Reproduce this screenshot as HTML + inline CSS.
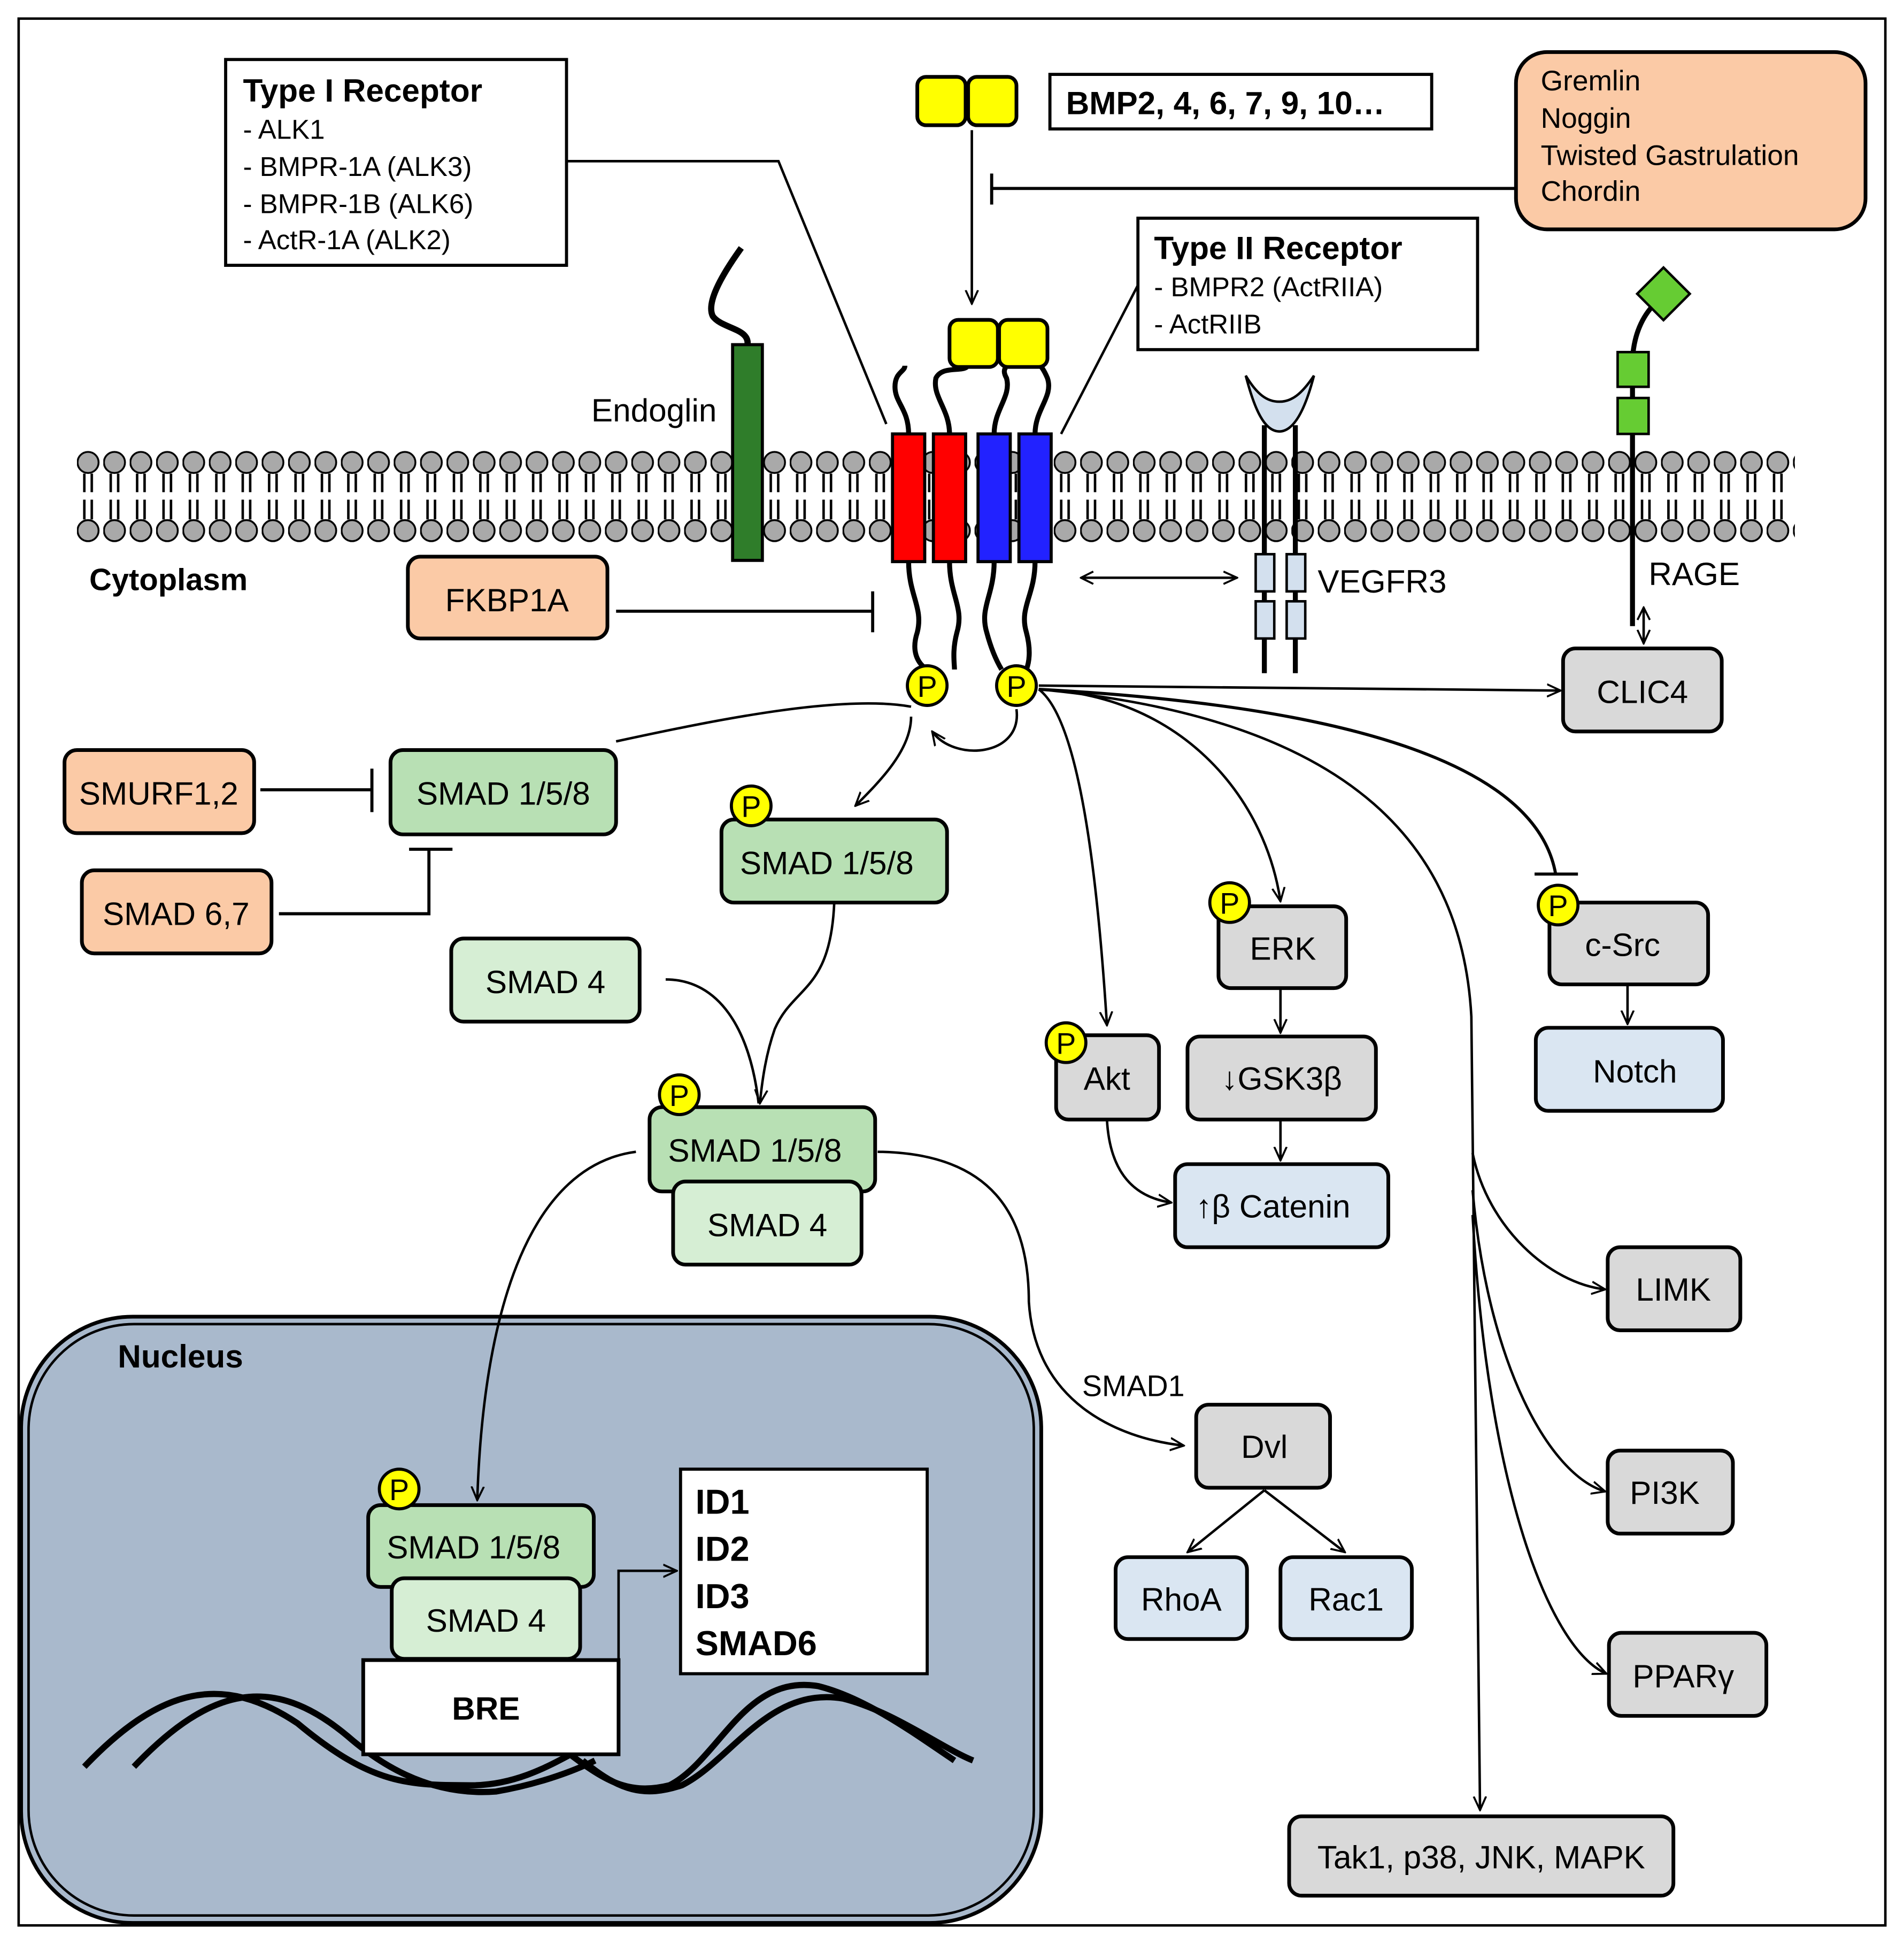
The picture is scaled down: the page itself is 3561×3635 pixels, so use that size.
<!DOCTYPE html>
<html><head><meta charset="utf-8"><style>
html,body{margin:0;padding:0;background:#fff}
svg{display:block}
text{font-family:"Liberation Sans",Arial,sans-serif;fill:#000}
</style></head><body>
<svg width="3561" height="3635" viewBox="0 0 1536 1568" xmlns="http://www.w3.org/2000/svg">
<defs>
<marker id="ar" viewBox="0 0 12 12" refX="11" refY="6" markerWidth="12" markerHeight="12" markerUnits="userSpaceOnUse" orient="auto">
<path d="M0,1 L11,6 L0,11" fill="none" stroke="#000" stroke-width="1.6"/></marker>
<marker id="ars" viewBox="0 0 12 12" refX="1" refY="6" markerWidth="12" markerHeight="12" markerUnits="userSpaceOnUse" orient="auto">
<path d="M11,1 L1,6 L11,11" fill="none" stroke="#000" stroke-width="1.6"/></marker>
<pattern id="lip" x="62" y="360" width="21.3" height="80" patternUnits="userSpaceOnUse">
<circle cx="9" cy="13" r="8.5" fill="#a9a9a9" stroke="#000" stroke-width="1.5"/>
<circle cx="9" cy="68" r="8.5" fill="#a9a9a9" stroke="#000" stroke-width="1.5"/>
<path d="M6,22 V37 M12,22 V37 M6,43 V59 M12,43 V59" stroke="#000" stroke-width="2"/>
</pattern>
</defs>
<rect x="0" y="0" width="1536" height="1568" fill="#fff"/>
<rect x="15" y="15" width="1506" height="1538" fill="none" stroke="#000" stroke-width="2"/>

<rect x="62" y="360" width="1386" height="80" fill="url(#lip)"/>

<rect x="17" y="1062" width="823" height="489" rx="90" fill="#a9b9cc" stroke="#000" stroke-width="3"/>
<rect x="23" y="1068" width="811" height="477" rx="85" fill="none" stroke="#000" stroke-width="2"/>
<text x="95" y="1103" font-size="26" font-weight="bold">Nucleus</text>

<rect x="182" y="48" width="275" height="166" fill="#fff" stroke="#000" stroke-width="2.5"/>
<text x="196" y="82" font-size="26" font-weight="bold">Type I Receptor</text>
<text x="196" y="112" font-size="22">- ALK1</text>
<text x="196" y="142" font-size="22">- BMPR-1A (ALK3)</text>
<text x="196" y="172" font-size="22">- BMPR-1B (ALK6)</text>
<text x="196" y="201" font-size="22">- ActR-1A (ALK2)</text>
<path d="M457,130 H628 L715,342" fill="none" stroke="#000" stroke-width="2"/>

<rect x="740" y="62" width="39" height="39" rx="7" fill="#ff0" stroke="#000" stroke-width="3"/>
<rect x="781" y="62" width="39" height="39" rx="7" fill="#ff0" stroke="#000" stroke-width="3"/>
<rect x="847" y="60" width="308" height="44" fill="#fff" stroke="#000" stroke-width="2.5"/>
<text x="860" y="92" font-size="26" font-weight="bold">BMP2, 4, 6, 7, 9, 10…</text>
<line x1="784" y1="105" x2="784" y2="245" stroke="#000" stroke-width="2" marker-end="url(#ar)"/>

<rect x="1223" y="42" width="282" height="143" rx="25" fill="#fbcaa6" stroke="#000" stroke-width="3"/>
<text x="1243" y="73" font-size="23">Gremlin</text>
<text x="1243" y="103" font-size="23">Noggin</text>
<text x="1243" y="133" font-size="23">Twisted Gastrulation</text>
<text x="1243" y="162" font-size="23">Chordin</text>
<path d="M1223,152 H800 M800,140 V165" stroke="#000" stroke-width="2.5"/>

<rect x="918" y="176" width="274" height="106" fill="#fff" stroke="#000" stroke-width="2.5"/>
<text x="931" y="209" font-size="26" font-weight="bold">Type II Receptor</text>
<text x="931" y="239" font-size="22">- BMPR2 (ActRIIA)</text>
<text x="931" y="269" font-size="22">- ActRIIB</text>
<path d="M918,230 L856,350" stroke="#000" stroke-width="2"/>

<path d="M598,200 C580,225 570,245 575,255 C582,265 605,265 603,278" fill="none" stroke="#000" stroke-width="5"/>
<rect x="591" y="278" width="24" height="174" fill="#2f7d2a" stroke="#000" stroke-width="2.5"/>
<text x="477" y="340" font-size="26">Endoglin</text>

<g fill="none" stroke="#000" stroke-width="4">
<path d="M733,350 C733,330 722,325 722,312 C722,300 730,300 730,295"/>
<path d="M766,350 C766,330 752,320 755,305 C760,295 775,300 780,296"/>
<path d="M802,350 C802,330 816,320 812,305 C808,298 812,296 812,296"/>
<path d="M835,350 C835,330 850,320 845,305 C842,298 840,296 840,296"/>
<path d="M733,453 C733,480 745,490 740,510 C735,525 740,535 748,540"/>
<path d="M766,453 C766,480 778,490 772,510 C768,525 770,535 770,540"/>
<path d="M802,453 C802,480 790,490 796,510 C800,525 805,535 808,540"/>
<path d="M835,453 C835,480 822,490 828,510 C832,525 830,535 828,540"/>
</g>
<rect x="766" y="258" width="39" height="38" rx="7" fill="#ff0" stroke="#000" stroke-width="3"/>
<rect x="806" y="258" width="39" height="38" rx="7" fill="#ff0" stroke="#000" stroke-width="3"/>
<rect x="720" y="350" width="26" height="103" fill="#f00" stroke="#000" stroke-width="2.5"/>
<rect x="753" y="350" width="26" height="103" fill="#f00" stroke="#000" stroke-width="2.5"/>
<rect x="789" y="350" width="26" height="103" fill="#22f" stroke="#000" stroke-width="2.5"/>
<rect x="822" y="350" width="26" height="103" fill="#22f" stroke="#000" stroke-width="2.5"/>

<path d="M1020,343 V543 M1045,343 V543" stroke="#000" stroke-width="4"/>
<path d="M1005,303 C1012,330 1020,348 1032,348 C1044,348 1053,330 1060,303 C1050,318 1042,324 1032,324 C1022,324 1014,318 1005,303 Z" fill="#d3e0ee" stroke="#000" stroke-width="2"/>
<rect x="1013" y="447" width="15" height="30" fill="#d3e0ee" stroke="#000" stroke-width="2"/>
<rect x="1038" y="447" width="15" height="30" fill="#d3e0ee" stroke="#000" stroke-width="2"/>
<rect x="1013" y="485" width="15" height="30" fill="#d3e0ee" stroke="#000" stroke-width="2"/>
<rect x="1038" y="485" width="15" height="30" fill="#d3e0ee" stroke="#000" stroke-width="2"/>
<text x="1063" y="478" font-size="26">VEGFR3</text>
<line x1="872" y1="466" x2="998" y2="466" stroke="#000" stroke-width="2" marker-end="url(#ar)" marker-start="url(#ars)"/>

<path d="M1317,505 V290 C1318,270 1325,255 1335,245" fill="none" stroke="#000" stroke-width="4"/>
<rect x="1305" y="284" width="25" height="28" fill="#6c3" stroke="#000" stroke-width="2"/>
<rect x="1305" y="321" width="25" height="29" fill="#6c3" stroke="#000" stroke-width="2"/>
<rect x="1327" y="222" width="30" height="30" fill="#6c3" stroke="#000" stroke-width="2" transform="rotate(45 1342 237)"/>
<text x="1330" y="472" font-size="26">RAGE</text>
<line x1="1326" y1="490" x2="1326" y2="519" stroke="#000" stroke-width="2" marker-end="url(#ar)" marker-start="url(#ars)"/>

<text x="72" y="476" font-size="25" font-weight="bold">Cytoplasm</text>

<g stroke="#000" stroke-width="3">
<rect x="1261" y="523" width="128" height="67" rx="10" fill="#d9d9d9"/>
<rect x="329" y="449" width="161" height="66" rx="10" fill="#fbcaa6"/>
<rect x="52" y="605" width="153" height="67" rx="10" fill="#fbcaa6"/>
<rect x="315" y="605" width="182" height="68" rx="10" fill="#b8e0b4"/>
<rect x="66" y="702" width="153" height="67" rx="10" fill="#fbcaa6"/>
<rect x="582" y="661" width="182" height="67" rx="10" fill="#b8e0b4"/>
<rect x="364" y="757" width="152" height="67" rx="10" fill="#d6eed4"/>
<rect x="524" y="893" width="182" height="68" rx="10" fill="#b8e0b4"/>
<rect x="543" y="953" width="152" height="67" rx="10" fill="#d6eed4"/>
<rect x="297" y="1214" width="182" height="66" rx="10" fill="#b8e0b4"/>
<rect x="316" y="1273" width="152" height="65" rx="10" fill="#d6eed4"/>
<rect x="549" y="1185" width="199" height="165" fill="#fff" stroke-width="2.5"/>
<rect x="852" y="835" width="83" height="68" rx="10" fill="#d9d9d9"/>
<rect x="983" y="731" width="103" height="66" rx="10" fill="#d9d9d9"/>
<rect x="958" y="836" width="152" height="67" rx="10" fill="#d9d9d9"/>
<rect x="948" y="939" width="172" height="67" rx="10" fill="#dae6f2"/>
<rect x="1250" y="728" width="128" height="66" rx="10" fill="#d9d9d9"/>
<rect x="1239" y="829" width="151" height="67" rx="10" fill="#dae6f2"/>
<rect x="965" y="1133" width="108" height="67" rx="10" fill="#d9d9d9"/>
<rect x="900" y="1256" width="106" height="66" rx="10" fill="#dae6f2"/>
<rect x="1033" y="1256" width="106" height="66" rx="10" fill="#dae6f2"/>
<rect x="1297" y="1006" width="107" height="67" rx="10" fill="#d9d9d9"/>
<rect x="1297" y="1170" width="101" height="67" rx="10" fill="#d9d9d9"/>
<rect x="1298" y="1317" width="127" height="67" rx="10" fill="#d9d9d9"/>
<rect x="1040" y="1465" width="310" height="64" rx="10" fill="#d9d9d9"/>
</g>
<g font-size="26" text-anchor="middle">
<text x="1325" y="567">CLIC4</text>
<text x="409" y="493">FKBP1A</text>
<text x="128" y="649">SMURF1,2</text>
<text x="406" y="649">SMAD 1/5/8</text>
<text x="142" y="746">SMAD 6,7</text>
<text x="667" y="705">SMAD 1/5/8</text>
<text x="440" y="801">SMAD 4</text>
<text x="609" y="937">SMAD 1/5/8</text>
<text x="619" y="997">SMAD 4</text>
<text x="382" y="1257">SMAD 1/5/8</text>
<text x="392" y="1316">SMAD 4</text>
<text x="893" y="879">Akt</text>
<text x="1035" y="774">ERK</text>
<text x="1034" y="879">↓GSK3β</text>
<text x="1027" y="982">↑β Catenin</text>
<text x="1309" y="771">c-Src</text>
<text x="1319" y="873">Notch</text>
<text x="1020" y="1176">Dvl</text>
<text x="953" y="1299">RhoA</text>
<text x="1086" y="1299">Rac1</text>
<text x="1350" y="1049">LIMK</text>
<text x="1343" y="1213">PI3K</text>
<text x="1358" y="1361">PPARγ</text>
<text x="1195" y="1507">Tak1, p38, JNK, MAPK</text>
</g>
<g font-size="28" font-weight="bold">
<text x="561" y="1221">ID1</text>
<text x="561" y="1259">ID2</text>
<text x="561" y="1297">ID3</text>
<text x="561" y="1335">SMAD6</text>
</g>
<text x="873" y="1126" font-size="24">SMAD1</text>

<g fill="none" stroke="#000" stroke-width="5">
<path d="M68,1425 C130,1360 180,1350 240,1390 C300,1440 330,1440 380,1440 C420,1440 450,1420 470,1410"/>
<path d="M108,1425 C170,1360 220,1350 280,1400 C320,1435 360,1448 400,1445 C430,1440 460,1430 480,1420"/>
<path d="M440,1400 C480,1430 500,1450 540,1440 C580,1420 600,1350 660,1360 C700,1370 740,1400 770,1420"/>
<path d="M470,1420 C500,1445 520,1450 550,1440 C590,1420 620,1360 680,1370 C720,1380 760,1410 785,1420"/>
</g>
<rect x="293" y="1339" width="206" height="76" fill="#fff" stroke="#000" stroke-width="3"/>
<text x="392" y="1387" font-size="26" font-weight="bold" text-anchor="middle">BRE</text>

<g fill="none" stroke="#000" stroke-width="2">
<path d="M497,493 H704 M704,477 V510" stroke-width="2.5"/>
<path d="M210,637 H300 M300,620 V655" stroke-width="2.5"/>
<path d="M225,737 H346 V685 M330,685 H365" stroke-width="2.5"/>
<path d="M497,598 C580,580 680,560 735,570"/>
<path d="M735,578 C735,605 710,630 690,650" marker-end="url(#ar)"/>
<path d="M820,572 C825,610 770,615 752,590" marker-end="url(#ar)"/>
<path d="M673,728 C670,800 640,795 625,830 C618,850 615,870 613,890" marker-end="url(#ar)"/>
<path d="M537,790 C580,790 605,830 612,890"/>
<path d="M513,929 C430,940 390,1050 385,1210" marker-end="url(#ar)"/>
<path d="M708,929 C800,930 830,980 830,1050 C835,1130 900,1160 955,1166" marker-end="url(#ar)"/>
<path d="M499,1339 V1267 H546" marker-end="url(#ar)"/>
<path d="M1020,1202 L958,1252" marker-end="url(#ar)"/>
<path d="M1020,1202 L1085,1252" marker-end="url(#ar)"/>
<path d="M838,553 L1259,557" marker-end="url(#ar)"/>
<path d="M838,556 C870,580 885,700 893,827" marker-end="url(#ar)"/>
<path d="M838,556 C950,560 1020,640 1033,727" marker-end="url(#ar)"/>
<path d="M838,556 C1100,570 1240,620 1255,705 M1238,705 H1273" stroke-width="2.5"/>
<path d="M838,556 C1100,580 1180,690 1187,820 L1194,1460" marker-end="url(#ar)"/>
<path d="M1188,930 C1200,990 1250,1035 1295,1040" marker-end="url(#ar)"/>
<path d="M1188,960 C1200,1100 1250,1190 1295,1203" marker-end="url(#ar)"/>
<path d="M1188,980 C1200,1200 1250,1330 1296,1350" marker-end="url(#ar)"/>
<path d="M1033,797 V833" marker-end="url(#ar)"/>
<path d="M1033,903 V936" marker-end="url(#ar)"/>
<path d="M1313,794 V826" marker-end="url(#ar)"/>
<path d="M893,903 C895,940 910,965 945,970" marker-end="url(#ar)"/>
</g>

<g stroke="#000" stroke-width="2.5" fill="#ff0">
<circle cx="748" cy="553" r="16"/><circle cx="820" cy="553" r="16"/>
<circle cx="606" cy="650" r="16"/><circle cx="548" cy="883" r="16"/>
<circle cx="322" cy="1201" r="16"/><circle cx="860" cy="841" r="16"/>
<circle cx="992" cy="728" r="16"/><circle cx="1257" cy="730" r="16"/>
</g>
<g font-size="24" text-anchor="middle">
<text x="748" y="562">P</text><text x="820" y="562">P</text>
<text x="606" y="659">P</text><text x="548" y="892">P</text>
<text x="322" y="1210">P</text><text x="860" y="850">P</text>
<text x="992" y="737">P</text><text x="1257" y="739">P</text>
</g>
</svg>
</body></html>
